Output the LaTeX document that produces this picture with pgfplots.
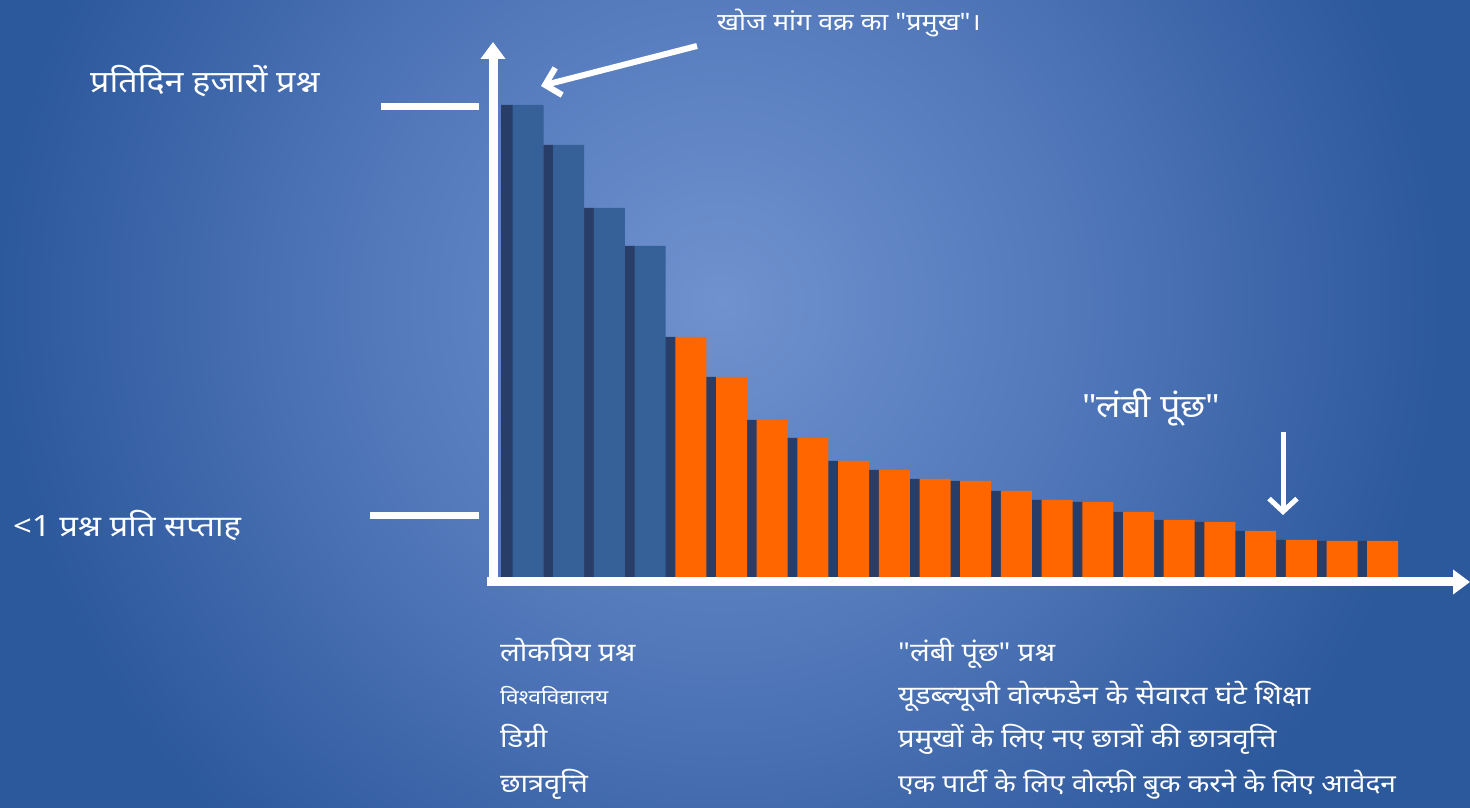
\documentclass[border=0pt]{standalone}
\usepackage{pgfplots}
\pgfplotsset{compat=1.18}
\usepackage{fontspec}
\setmainfont[Script=Devanagari, FakeStretch=1.12, Ligatures=TeXOff]{Noto Sans}
\usetikzlibrary{arrows.meta}

\definecolor{bgout}{RGB}{44,88,156}
\definecolor{bgmid}{RGB}{84,122,188}
\definecolor{bgin}{RGB}{112,146,206}
\definecolor{barblue}{RGB}{54,96,152}
\definecolor{bardark}{RGB}{40,62,104}
\definecolor{barorange}{RGB}{255,102,0}

\pgfdeclareradialshading{bg}{\pgfpoint{0bp}{0bp}}{%
  color(0bp)=(bgin); color(330bp)=(bgmid); color(720bp)=(bgout); color(1000bp)=(bgout)}

% picture units are reference pixels: (px, 808-py)
\begin{document}
\begin{tikzpicture}[x=1pt,y=1pt]
\clip (0,0) rectangle (1470,808);
\fill[bgout] (0,0) rectangle (1470,808);
\node[inner sep=0pt] at (720,505) {\pgfuseshading{bg}};
\coordinate (ax) at (491,228);

\begin{axis}[
    at={(ax)}, anchor=south west,
    scale only axis, width=979pt, height=535pt,
    xmin=0.0909, xmax=24.145, ymin=0, ymax=535,
    hide axis, clip=false,
    ybar, bar width=31pt,
  ]
% shadow strip left of each bar
\addplot[fill=bardark, draw=none, bar shift=-21pt, bar width=12pt] coordinates {
  (1,475) (2,435) (3,372) (4,334) (5,243) (6,203) (7,160) (8,142) (9,119) (10,110) (11,101)
  (12,99) (13,89) (14,80) (15,78) (16,68) (17,60) (18,58) (19,49) (20,40) (21,39) (22,39)};
\addplot[fill=barblue, draw=none, bar shift=0pt] coordinates {
  (1,475) (2,435) (3,372) (4,334)};
\addplot[fill=barorange, draw=none, bar shift=0pt] coordinates {
  (5,243) (6,203) (7,160) (8,142) (9,119) (10,110) (11,101) (12,99) (13,89) (14,80)
  (15,78) (16,68) (17,60) (18,58) (19,49) (20,40) (21,39) (22,39)};
\end{axis}

% axes
\draw[white, line width=9, -{Triangle[width=24,length=17]}] (493,222) -- (493,766);
\draw[white, line width=9, -{Triangle[width=24,length=17]}] (487,226) -- (1470,226);
% level marks
\draw[white, line width=7] (381,701) -- (479,701);
\draw[white, line width=7] (370,292) -- (479,292);
% pointers
\draw[white, line width=6, -{Straight Barb[length=14,width=28]}] (697,762) -- (541,722);
\draw[white, line width=5, -{Straight Barb[length=13,width=28]}] (1283,376) -- (1283,293);

\begin{scope}[every node/.style={text=white, inner sep=0pt, anchor=base west}]
\node[font=\fontsize{30.4}{34}\selectfont] at (90,715) {प्रतिदिन हजारों प्रश्न};
\node[font=\fontsize{29.3}{34}\selectfont] at (13,271) {<1 प्रश्न प्रति सप्ताह};
\node[font=\fontsize{24}{28}\selectfont] at (717,777) {खोज मांग वक्र का "प्रमुख"।};
\node[font=\fontsize{32}{36}\selectfont] at (1082,390) {"लंबी पूंछ"};
\node[font=\fontsize{26}{30}\selectfont] at (500,146) {लोकप्रिय प्रश्न};
\node[font=\fontsize{20.3}{24}\selectfont] at (500,103) {विश्वविद्यालय};
\node[font=\fontsize{26}{30}\selectfont] at (500,60) {डिग्री};
\node[font=\fontsize{26}{30}\selectfont] at (500,15) {छात्रवृत्ति};
\node[font=\fontsize{26}{30}\selectfont] at (898,146) {"लंबी पूंछ" प्रश्न};
\node[font=\fontsize{26}{30}\selectfont] at (898,103) {यूडब्ल्यूजी वोल्फडेन के सेवारत घंटे शिक्षा};
\node[font=\fontsize{26}{30}\selectfont] at (898,60) {प्रमुखों के लिए नए छात्रों की छात्रवृत्ति};
\node[font=\fontsize{25}{30}\selectfont] at (898,15) {एक पार्टी के लिए वोल्फ़ी बुक करने के लिए आवेदन};
\end{scope}
\end{tikzpicture}
\end{document}
